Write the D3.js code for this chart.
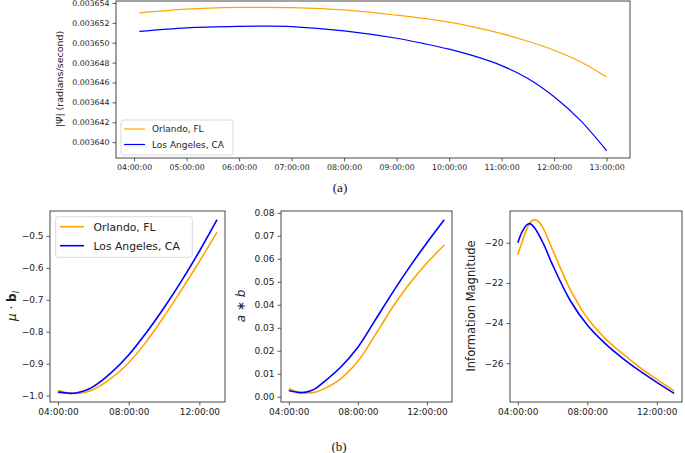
<!DOCTYPE html>
<html><head><meta charset="utf-8">
<script src="https://cdn.jsdelivr.net/npm/d3@7"></script>
<style>
body{margin:0;background:#fff;}
svg{display:block;font-family:"DejaVu Sans",sans-serif;}
</style></head>
<body>
<svg id="c" width="685" height="453"></svg>
<script>
// ---------- DATA ----------
const seriesNames = ["Orlando, FL", "Los Angeles, CA"];
const seriesColors = ["#ffa500", "#0000ff"];

// (a) |Psi dot| rad/s, hours of day
const topHours = [4.1, 5, 6, 6.5, 7, 8, 9, 9.5, 10, 10.5, 11, 11.5, 12, 12.5, 13];
const topOrlando = [0.00365300, 0.00365338, 0.00365355, 0.00365356, 0.00365353, 0.00365330, 0.00365277, 0.00365245, 0.00365207, 0.00365155, 0.00365092, 0.00365015, 0.00364925, 0.00364809, 0.00364654];
const topLA = [0.00365114, 0.00365150, 0.00365165, 0.00365167, 0.00365163, 0.00365120, 0.00365045, 0.00364993, 0.00364935, 0.00364862, 0.00364770, 0.00364640, 0.00364456, 0.00364218, 0.00363913];
const topYTicks = [0.003640, 0.003642, 0.003644, 0.003646, 0.003648, 0.003650, 0.003652, 0.003654];
const topXTicks = [4, 5, 6, 7, 8, 9, 10, 11, 12, 13];

// (b) panels
const muHours = [4, 4.5, 4.75, 5, 5.5, 6, 7, 8, 9, 10, 11, 12, 13];
const muOrlando = [-0.984, -0.991, -0.992, -0.993, -0.990, -0.981, -0.946, -0.897, -0.831, -0.752, -0.668, -0.580, -0.488];
const muLA = [-0.989, -0.992, -0.993, -0.992, -0.985, -0.972, -0.929, -0.873, -0.803, -0.725, -0.640, -0.548, -0.449];
const muTicks = [-1.0, -0.9, -0.8, -0.7, -0.6, -0.5];

const abHours = [4, 4.5, 4.75, 5, 5.5, 6, 7, 8, 9, 10, 11, 12, 13];
const abOrlando = [0.0036, 0.0021, 0.0018, 0.0016, 0.0019, 0.0033, 0.0078, 0.0154, 0.0268, 0.0388, 0.0493, 0.0582, 0.0660];
const abLA = [0.0027, 0.0019, 0.0018, 0.0020, 0.0033, 0.0062, 0.0128, 0.0215, 0.0333, 0.0452, 0.0565, 0.0670, 0.0770];
const abTicks = [0.00, 0.01, 0.02, 0.03, 0.04, 0.05, 0.06, 0.07, 0.08];

const imHoursO = [4, 4.25, 4.5, 4.75, 5, 5.25, 5.5, 6, 7, 8, 9, 10, 11, 12, 13];
const imOrlando = [-20.6, -19.95, -19.35, -18.95, -18.85, -19.0, -19.35, -20.35, -22.3, -23.75, -24.75, -25.5, -26.2, -26.8, -27.38];
const imHoursL = [4, 4.25, 4.5, 4.7, 5, 5.5, 6, 7, 8, 9, 10, 11, 12, 13];
const imLA = [-20.0, -19.45, -19.12, -19.05, -19.3, -20.1, -21.1, -22.85, -24.1, -25.0, -25.73, -26.37, -26.95, -27.5];
const imTicks = [-26, -24, -22, -20];

const bottomXTicks = [4, 8, 12];

// ---------- DRAW ----------
const svg = d3.select("#c");
const pad2 = n => String(n).padStart(2, "0");
const fmtHour = h => pad2(h) + ":00:00";
const minus = s => s.replace("-", "\u2212");

function panel(o) {
  const x = d3.scaleLinear().domain(o.xDomain).range([o.x0, o.x1]);
  const y = d3.scaleLinear().domain(o.yDomain).range([o.y1, o.y0]);
  const g = svg.append("g");
  const line = d3.line().x(d => x(d[0])).y(d => y(d[1])).curve(d3.curveCatmullRom.alpha(0.5));
  o.series.forEach((s, i) => {
    g.append("path")
      .datum(s.hours.map((h, k) => [h, s.values[k]]))
      .attr("fill", "none").attr("stroke", seriesColors[i])
      .attr("stroke-width", o.lw).attr("d", line);
  });
  const xa = g.append("g").attr("transform", `translate(0,${o.y1})`)
    .call(d3.axisBottom(x).tickValues(o.xTicks).tickFormat(fmtHour).tickSize(3.5).tickPadding(3));
  const ya = g.append("g").attr("transform", `translate(${o.x0},0)`)
    .call(d3.axisLeft(y).tickValues(o.yTicks).tickFormat(o.yFmt).tickSize(3.5).tickPadding(3));
  [xa, ya].forEach(a => {
    a.select(".domain").remove();
    a.selectAll(".tick line").attr("stroke", "#333").attr("stroke-width", 0.8);
    a.selectAll("text").attr("fill", "#222").style("font-family", "DejaVu Sans")
      .style("font-size", o.tickFs + "px");
  });
  g.append("rect").attr("x", o.x0).attr("y", o.y0)
    .attr("width", o.x1 - o.x0).attr("height", o.y1 - o.y0)
    .attr("fill", "none").attr("stroke", "#333").attr("stroke-width", 0.9);
  return {g, x, y};
}

function legend(lg) {
  const g = svg.append("g");
  g.append("rect").attr("x", lg.x).attr("y", lg.y).attr("width", lg.w).attr("height", lg.h)
    .attr("rx", 2.5).attr("fill", "#fff").attr("fill-opacity", 0.8)
    .attr("stroke", "#d0d0d0").attr("stroke-width", 0.8);
  seriesNames.forEach((n, i) => {
    const yy = lg.rows[i];
    g.append("line").attr("x1", lg.hx0).attr("x2", lg.hx1).attr("y1", yy).attr("y2", yy)
      .attr("stroke", seriesColors[i]).attr("stroke-width", lg.lw);
    g.append("text").attr("x", lg.tx).attr("y", yy).attr("dy", "0.36em")
      .style("font-size", lg.fs + "px").attr("fill", "#222").text(n);
  });
}

// Top panel (a)
panel({
  x0: 116, x1: 630, y0: 1, y1: 158,
  xDomain: [3.655, 13.445], yDomain: [0.0036384, 0.0036542],
  xTicks: topXTicks, yTicks: topYTicks, yFmt: d3.format(".6f"),
  tickFs: 7.8, lw: 1.2,
  series: [{hours: topHours, values: topOrlando}, {hours: topHours, values: topLA}]
});
legend({x: 121, y: 120, w: 112, h: 35, rows: [129, 144.5], hx0: 124, hx1: 145, tx: 152, fs: 9, lw: 1.2});
svg.append("text").attr("transform", "translate(63,79) rotate(-90)").attr("text-anchor", "middle")
  .style("font-size", "9.5px").attr("fill", "#222").text("|\u03A8\u0307| (radians/second)");
svg.append("text").attr("x", 340).attr("y", 192).attr("text-anchor", "middle")
  .style("font-family", "Liberation Serif").style("font-size", "13px").attr("fill", "#111").text("(a)");

// Bottom panels (b)
const by0 = 211, by1 = 402;
panel({
  x0: 50, x1: 225, y0: by0, y1: by1,
  xDomain: [3.55, 13.45], yDomain: [-1.020, -0.422],
  xTicks: bottomXTicks, yTicks: muTicks, yFmt: d => minus(d3.format(".1f")(d)),
  tickFs: 9, lw: 1.6,
  series: [{hours: muHours, values: muOrlando}, {hours: muHours, values: muLA}]
});
legend({x: 55.7, y: 216.7, w: 136.6, h: 40.6, rows: [226.7, 245.7], hx0: 60, hx1: 84, tx: 93.5, fs: 10.8, lw: 1.6});
const l1 = svg.append("text").attr("transform", "translate(16,306) rotate(-90)").attr("text-anchor", "middle")
  .style("font-size", "12px").attr("fill", "#222");
l1.append("tspan").style("font-style", "italic").text("\u03BC");
l1.append("tspan").text(" \u00B7 ");
l1.append("tspan").style("font-weight", "bold").text("b");
l1.append("tspan").style("font-style", "italic").style("font-size", "8.5px").attr("dy", 3).text("l");

panel({
  x0: 281, x1: 452, y0: by0, y1: by1,
  xDomain: [3.55, 13.45], yDomain: [-0.0023, 0.0808],
  xTicks: bottomXTicks, yTicks: abTicks, yFmt: d3.format(".2f"),
  tickFs: 9, lw: 1.6,
  series: [{hours: abHours, values: abOrlando}, {hours: abHours, values: abLA}]
});
const l2 = svg.append("text").attr("transform", "translate(245,306) rotate(-90)").attr("text-anchor", "middle")
  .style("font-size", "12px").attr("fill", "#222");
l2.append("tspan").style("font-style", "italic").text("a");
l2.append("tspan").text(" \u2217 ");
l2.append("tspan").style("font-style", "italic").text("b");

panel({
  x0: 510, x1: 682, y0: by0, y1: by1,
  xDomain: [3.55, 13.45], yDomain: [-27.93, -18.42],
  xTicks: bottomXTicks, yTicks: imTicks, yFmt: d => minus(String(d)),
  tickFs: 9, lw: 1.6,
  series: [{hours: imHoursO, values: imOrlando}, {hours: imHoursL, values: imLA}]
});
svg.append("text").attr("transform", "translate(474.5,306) rotate(-90)").attr("text-anchor", "middle")
  .style("font-size", "11.5px").attr("fill", "#222").text("Information Magnitude");

svg.append("text").attr("x", 339).attr("y", 451).attr("text-anchor", "middle")
  .style("font-family", "Liberation Serif").style("font-size", "13px").attr("fill", "#111").text("(b)");
</script>
</body></html>
